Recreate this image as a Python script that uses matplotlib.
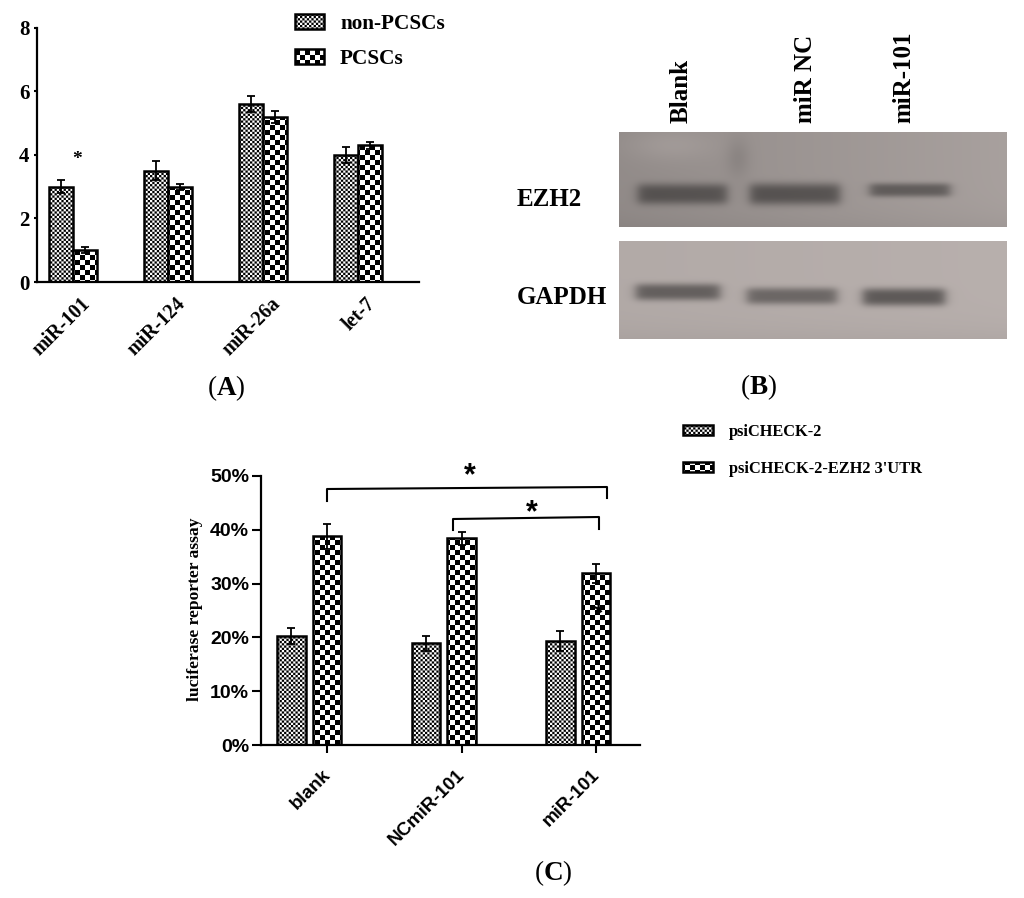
import warnings

import matplotlib
matplotlib.use("Agg")
import matplotlib.hatch as mhatch
import matplotlib.pyplot as plt
import numpy as np
from matplotlib.path import Path
from matplotlib.transforms import ScaledTranslation

warnings.filterwarnings("ignore", message=".*hatch.*")

W, H = 1024, 898
SERIF = "Liberation Serif"
SANS = "Liberation Sans"

plt.rcParams["font.family"] = SERIF
plt.rcParams["mathtext.fontset"] = "custom"
plt.rcParams["mathtext.rm"] = "Liberation Serif"
plt.rcParams["mathtext.bf"] = "Liberation Serif:bold"
plt.rcParams["hatch.linewidth"] = 0.0

# panel A
A_GENES = ["miR-101", "miR-124", "miR-26a", "let-7"]
A_NON = [3.0, 3.5, 5.6, 4.0]
A_NON_ERR = [0.2, 0.3, 0.25, 0.25]
A_PCSC = [1.0, 3.0, 5.2, 4.3]
A_PCSC_ERR = [0.1, 0.1, 0.2, 0.1]
A_SERIES = ["non-PCSCs", "PCSCs"]

# panel C
C_GROUPS = ["blank", "NCmiR-101", "miR-101"]
C_PSI = [20.3, 18.9, 19.3]
C_PSI_ERR = [1.5, 1.4, 1.9]
C_UTR = [38.8, 38.4, 31.9]
C_UTR_ERR = [2.3, 1.2, 1.7]
C_SERIES = ["psiCHECK-2", "psiCHECK-2-EZH2 3'UTR"]
C_TICKS = [0, 10, 20, 30, 40, 50]

# panel B, blot bands as (left, right, centre y, half height, darkness)
B_LANES = ["Blank", "miR NC", "miR-101"]
B_EZH2_BANDS = [(638, 727, 194, 10.5, 0.58), (750, 840, 194, 11, 0.56), (870, 950, 190, 7, 0.60)]
B_GAPDH_BANDS = [(636, 720, 292, 8.5, 0.56), (747, 837, 296, 8.5, 0.60), (863, 945, 297, 9, 0.52)]


class CheckerBase(mhatch.HatchPatternBase):
    char = ""
    cells = 20

    def __init__(self, hatch, density):
        self.count = hatch.count(self.char)
        self.num_vertices = self.count * (self.cells ** 2 // 2) * 5

    def set_vertices_and_codes(self, vertices, codes):
        step = 1.0 / self.cells
        squares = [(i, j) for i in range(self.cells) for j in range(self.cells) if (i + j) % 2 == 0]
        k = 0
        for i, j in squares:
            x0, y0 = i * step, j * step
            vertices[k:k + 5] = [(x0, y0), (x0 + step, y0), (x0 + step, y0 + step), (x0, y0 + step), (x0, y0)]
            codes[k:k + 5] = [Path.MOVETO, Path.LINETO, Path.LINETO, Path.LINETO, Path.CLOSEPOLY]
            k += 5


class FineChecker(CheckerBase):
    char = "c"
    cells = 44


class CoarseChecker(CheckerBase):
    char = "C"
    cells = 20


mhatch._hatch_types.extend([FineChecker, CoarseChecker])


def px_rect(left, top, right, bottom):
    return [left / W, 1 - bottom / H, (right - left) / W, (bottom - top) / H]


def style_axes(ax):
    ax.patch.set_alpha(0)
    for side in ["top", "right"]:
        ax.spines[side].set_visible(False)
    for side in ["left", "bottom"]:
        ax.spines[side].set_linewidth(1.6)


def shift_labels(ax, dx, dy):
    offset = ScaledTranslation(dx / 100, dy / 100, ax.figure.dpi_scale_trans)
    for label in ax.get_xticklabels():
        label.set_transform(label.get_transform() + offset)


def draw_panel_a(fig):
    ax = fig.add_axes(px_rect(37, 28, 419, 282))
    style_axes(ax)
    x = np.arange(len(A_GENES))
    width = 24 / 95
    err_kw = {"ecolor": "black", "elinewidth": 1.3, "capsize": 3, "capthick": 1.3}
    ax.bar(x - width / 2, A_NON, width, yerr=A_NON_ERR, color="white", edgecolor="black",
           linewidth=1.8, hatch="c", label=A_SERIES[0], error_kw=err_kw)
    ax.bar(x + width / 2, A_PCSC, width, yerr=A_PCSC_ERR, color="white", edgecolor="black",
           linewidth=1.8, hatch="C", label=A_SERIES[1], error_kw=err_kw)
    ax.set_xlim(-36 / 95, 346 / 95)
    ax.set_ylim(0, 8)
    ax.set_yticks([0, 2, 4, 6, 8])
    ax.tick_params(axis="y", length=2.5, width=1.5, pad=3)
    ax.tick_params(axis="x", length=0, pad=4)
    for label in ax.get_yticklabels():
        label.set_fontsize(15)
        label.set_fontweight("bold")
    ax.set_xticks(x)
    ax.set_xticklabels(A_GENES, rotation=45, ha="right", rotation_mode="anchor",
                       fontsize=14.2, fontweight="bold")
    shift_labels(ax, 7, -6)
    fig.legend(loc="upper left", bbox_to_anchor=(295 / W, 1 - 14 / H), frameon=False,
               prop={"family": SERIF, "weight": "bold", "size": 15.3}, handlelength=1.37,
               handleheight=0.71, labelspacing=0.72, handletextpad=0.75, borderpad=0, borderaxespad=0)


def draw_panel_c(fig):
    ax = fig.add_axes(px_rect(261, 476, 640, 745))
    style_axes(ax)
    x = np.arange(len(C_GROUPS))
    width = 28.5 / 134.5
    err_kw = {"ecolor": "black", "elinewidth": 1.3, "capsize": 3, "capthick": 1.3}
    psi = ax.bar(x - 0.265, C_PSI, width, yerr=C_PSI_ERR, color="white", edgecolor="black",
                 linewidth=1.8, hatch="c", error_kw=err_kw)
    utr = ax.bar(x, C_UTR, width, yerr=C_UTR_ERR, color="white", edgecolor="black",
                 linewidth=1.8, hatch="C", error_kw=err_kw)
    ax.set_xlim(-66 / 134.5, 313 / 134.5)
    ax.set_ylim(0, 50)
    ax.set_yticks(C_TICKS)
    ax.set_yticklabels([f"{t}%" for t in C_TICKS], family=SANS, fontweight="bold", fontsize=14)
    ax.tick_params(axis="y", length=6.5, width=1.5, pad=2)
    ax.tick_params(axis="x", length=6, width=1.5, pad=5)
    ax.set_xticks(x)
    ax.set_xticklabels(C_GROUPS, rotation=45, ha="right", rotation_mode="anchor",
                       family=SANS, fontsize=13.5, fontweight="bold")
    shift_labels(ax, -5, -6)
    ax.set_ylabel("luciferase reporter assay", fontsize=12.6, fontweight="bold", labelpad=0)
    ax.yaxis.set_label_coords((203 - 261) / 379, 0.505)
    fig.legend([psi, utr], C_SERIES, loc="upper left", bbox_to_anchor=(683 / W, 1 - 423.5 / H),
               frameon=False, prop={"family": SERIF, "weight": "bold", "size": 11.8},
               handlelength=1.83, handleheight=0.6, labelspacing=1.29, handletextpad=0.98,
               borderpad=0, borderaxespad=0)


def blot_image(left, top, right, bottom, bg, slope, bands):
    xs = np.arange(left, right) + 0.5
    ys = np.arange(top, bottom) + 0.5
    xx, yy = np.meshgrid(xs, ys)
    # slow shading across the membrane, darker left and toward the bottom edge
    img = bg - slope * (1 - (xx - left) / (right - left)) - 8 * ((yy - top) / (bottom - top)) ** 6
    for x0, x1, yc, hh, dark in bands:
        prof_x = 0.5 * (np.tanh((xx - x0) / 6) - np.tanh((xx - x1) / 6))
        prof_y = np.exp(-((np.abs(yy - yc) / hh) ** 3))
        img = img * (1 - (1 - dark) * prof_x * prof_y)
    return img


def tint(img):
    # membrane scan is slightly warm grey
    rgb = np.dstack([img, img * 0.955, img * 0.94])
    return np.clip(rgb, 0, 255).astype(np.uint8)


def draw_panel_b(overlay):
    ezh2 = blot_image(619, 132, 1007, 227, 168, 22, B_EZH2_BANDS)
    xx, yy = np.meshgrid(np.arange(619, 1007) + 0.5, np.arange(132, 227) + 0.5)
    ezh2 += 12 * np.exp(-(((xx - 670) / 45) ** 2 + ((yy - 145) / 16) ** 2))
    ezh2 -= 14 * np.exp(-(((xx - 738) / 12) ** 2 + ((yy - 158) / 20) ** 2))
    gapdh = blot_image(619, 241, 1007, 339, 184, 6, B_GAPDH_BANDS)
    overlay.imshow(tint(ezh2), extent=(619, 1007, 227, 132), aspect="auto", interpolation="bilinear")
    overlay.imshow(tint(gapdh), extent=(619, 1007, 339, 241), aspect="auto", interpolation="bilinear")
    overlay.set_xlim(0, W)
    overlay.set_ylim(H, 0)
    for xpos, name in zip([681, 805, 904], B_LANES):
        overlay.text(xpos, 123, name, rotation=90, ha="center", va="bottom",
                     fontsize=18, fontweight="bold")
    overlay.text(517, 199, "EZH2", ha="left", va="center", fontsize=18, fontweight="bold")
    overlay.text(517, 298, "GAPDH", ha="left", va="center", fontsize=18, fontweight="bold")


def draw_notes(overlay):
    for xpos, ypos, name in [(226, 388, "A"), (758, 387, "B"), (553, 873, "C")]:
        overlay.text(xpos, ypos, f"($\\mathbf{{{name}}}$)", ha="center", va="center", fontsize=19.5)
    overlay.text(77, 160, "*", ha="center", va="center", fontsize=14, fontweight="bold")
    overlay.plot([327, 327, 607, 607], [501, 489, 487, 498], color="black", lw=1.5)
    overlay.plot([453, 453, 599, 599], [530, 519, 517, 529], color="black", lw=1.5)
    overlay.text(470, 476, "*", ha="center", va="center", family=SANS, fontsize=22, fontweight="bold")
    overlay.text(532, 513, "*", ha="center", va="center", family=SANS, fontsize=22, fontweight="bold")
    overlay.text(598, 614, "*", ha="center", va="center", family=SANS, fontsize=17, fontweight="bold", zorder=5)


def main():
    fig = plt.figure(figsize=(W / 100, H / 100), dpi=100)
    overlay = fig.add_axes([0, 0, 1, 1], zorder=3)
    overlay.axis("off")
    overlay.patch.set_alpha(0)
    draw_panel_a(fig)
    draw_panel_c(fig)
    draw_panel_b(overlay)
    draw_notes(overlay)
    fig.savefig("out.png", dpi=100)


if __name__ == "__main__":
    main()
